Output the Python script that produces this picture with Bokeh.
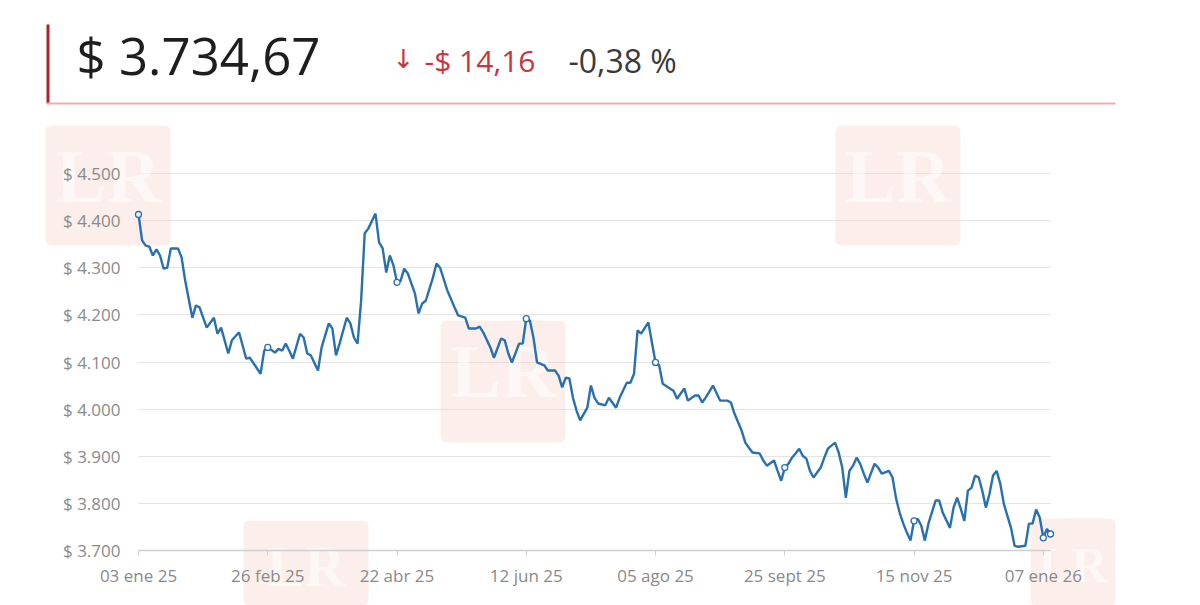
from bokeh.plotting import figure
from bokeh.models import Range1d, FixedTicker, Label, BoxAnnotation, ColumnDataSource
from bokeh.embed import file_html
from bokeh.resources import INLINE

# ---- data ----
day_index = [0, 1, 2, 3, 4, 5, 6, 7, 8, 9, 11, 12, 13, 15, 16, 17, 19, 21, 22, 23, 25, 26, 28, 30, 31,
             34, 35, 36, 38, 39, 40, 41, 42, 43, 45, 46, 47, 48, 50, 51, 53, 54, 55, 56, 58, 59, 60, 61,
             62, 63, 64, 66, 67, 68, 69, 70, 71, 72, 73, 74, 75, 77, 78, 79, 80, 82, 83, 84, 86, 88, 89,
             91, 92, 94, 95, 96, 98, 99, 101, 102, 103, 104, 106, 107, 108, 109, 110, 111, 113, 114, 116,
             117, 118, 119, 120, 121, 122, 123, 125, 126, 127, 128, 130, 131, 133, 134, 136, 137, 138,
             139, 140, 142, 143, 144, 145, 146, 148, 149, 150, 152, 153, 155, 156, 157, 158, 160, 162,
             164, 165, 166, 168, 169, 170, 171, 173, 174, 175, 177, 178, 179, 180, 181, 182, 183, 184,
             185, 186, 187, 188, 190, 191, 192, 194, 195, 196, 197, 198, 199, 200, 201, 202, 203, 205,
             206, 207, 209, 210, 211, 212, 213, 214, 215, 216, 217, 218, 219, 220, 222, 223, 224, 226,
             227, 228, 229, 230, 231, 232, 233, 234, 235, 236, 237, 238, 239, 240, 241, 243, 244, 245,
             247, 248, 249, 250, 251, 252, 253, 254]
trm = [4413, 4358, 4347, 4345, 4326, 4339, 4326, 4298, 4300, 4341, 4341, 4322, 4273, 4194, 4220, 4216,
       4173, 4194, 4160, 4173, 4118, 4146, 4163, 4107, 4109, 4075, 4124, 4131, 4120, 4128, 4124, 4139,
       4124, 4107, 4160, 4152, 4118, 4114, 4082, 4131, 4182, 4171, 4114, 4139, 4194, 4182, 4152, 4139,
       4230, 4373, 4383, 4415, 4354, 4341, 4290, 4326, 4305, 4269, 4272, 4298, 4288, 4245, 4203, 4224,
       4230, 4279, 4309, 4300, 4252, 4216, 4199, 4194, 4171, 4171, 4175, 4163, 4131, 4109, 4150, 4146,
       4118, 4099, 4139, 4139, 4192, 4188, 4152, 4099, 4093, 4082, 4082, 4071, 4046, 4067, 4065, 4024,
       3997, 3976, 4003, 4050, 4024, 4012, 4008, 4024, 4003, 4024, 4056, 4056, 4075, 4167, 4160, 4184,
       4141, 4099, 4093, 4054, 4044, 4039, 4022, 4044, 4018, 4029, 4029, 4014, 4025, 4050, 4018, 4018,
       4014, 3990, 3954, 3929, 3918, 3908, 3906, 3891, 3880, 3891, 3869, 3848, 3876, 3884, 3897, 3906,
       3916, 3901, 3895, 3869, 3855, 3876, 3897, 3916, 3929, 3908, 3876, 3812, 3869, 3880, 3897, 3884,
       3863, 3844, 3884, 3876, 3863, 3869, 3855, 3810, 3780, 3757, 3738, 3721, 3763, 3767, 3753, 3721,
       3757, 3806, 3806, 3780, 3748, 3791, 3812, 3789, 3763, 3827, 3833, 3859, 3855, 3827, 3791, 3820,
       3859, 3869, 3842, 3799, 3748, 3710, 3708, 3710, 3757, 3757, 3787, 3770, 3727, 3746, 3735]

x_tick_pos = [0, 36, 72, 108, 144, 180, 216, 252]
x_tick_labels = ["03 ene 25", "26 feb 25", "22 abr 25", "12 jun 25",
                 "05 ago 25", "25 sept 25", "15 nov 25", "07 ene 26"]
y_tick_vals = [3700, 3800, 3900, 4000, 4100, 4200, 4300, 4400, 4500]
y_tick_labels = ["$ 3.700", "$ 3.800", "$ 3.900", "$ 4.000", "$ 4.100",
                 "$ 4.200", "$ 4.300", "$ 4.400", "$ 4.500"]

last_value = "$ 3.734,67"
change_abs = "-$ 14,16"
change_pct = "-0,38 %"

# ---- layout: the frame fills the page; the chart area sits inside it ----
W, H = 1200, 605
PL, PR, PT, PB = 138, 1050, 173, 550          # chart area edges in page pixels
X0, X1 = 0, 254                               # chart area in index units
Y0, Y1 = 3700, 4500                           # chart area in value units
kx = (PR - PL) / (X1 - X0)
ky = (PB - PT) / (Y1 - Y0)
x_range = Range1d(X0 - PL / kx, X1 + (W - PR) / kx)
y_range = Range1d(Y0 - (H - PB) / ky, Y1 + PT / ky)


def sx(cx):
    return cx


def sy(cy):
    return H - cy


FONT = "Open Sans"
LINE_BLUE = "#2870b0"

p = figure(width=W, height=H, output_backend="svg", toolbar_location=None,
           x_range=x_range, y_range=y_range,
           min_border_left=0, min_border_right=0, min_border_top=0, min_border_bottom=0)
p.outline_line_color = None
p.background_fill_color = "white"
p.border_fill_color = "white"

# watermarks (faint LR boxes): left, right, top, bottom, text centre y, text size
marks = [(45, 170, 125, 245, 175, "76px"), (440, 565, 320, 442, 370, "76px"),
         (835, 960, 125, 245, 175, "76px"), (243, 368, 520, 605, 566, "56px"),
         (1030, 1115, 518, 605, 564, "50px")]
for (l, r, t, b, ty, fs) in marks:
    p.add_layout(BoxAnnotation(left=sx(l), right=sx(r), top=sy(t), bottom=sy(b),
                               left_units="screen", right_units="screen",
                               top_units="screen", bottom_units="screen",
                               fill_color="#f3c6be", fill_alpha=0.30, line_color=None,
                               border_radius=6, level="underlay"))
    p.add_layout(Label(x=sx((l + r) / 2), y=sy(ty), x_units="screen", y_units="screen",
                       text="LR", text_align="center", text_baseline="middle",
                       text_font="Liberation Serif", text_font_style="bold",
                       text_font_size=fs, text_color="white", text_alpha=0.55,
                       level="underlay"))

# header
p.add_layout(BoxAnnotation(left=sx(46), right=sx(49), top=sy(24), bottom=sy(103),
                           left_units="screen", right_units="screen",
                           top_units="screen", bottom_units="screen",
                           fill_color="#b3202a", fill_alpha=1, line_color=None))
p.add_layout(BoxAnnotation(left=sx(46), right=sx(1115), top=sy(102), bottom=sy(104),
                           left_units="screen", right_units="screen",
                           top_units="screen", bottom_units="screen",
                           fill_color="#e9b0ae", fill_alpha=1, line_color=None))
p.add_layout(Label(x=sx(76), y=sy(54), x_units="screen", y_units="screen",
                   text=last_value, text_baseline="middle", text_font=FONT,
                   text_font_size="51px", text_color="#1e1e1e"))
p.add_layout(Label(x=sx(392), y=sy(58), x_units="screen", y_units="screen",
                   text="↓", text_baseline="middle", text_font="DejaVu Sans",
                   text_font_size="26px", text_color="#c9353b"))
p.add_layout(Label(x=sx(424), y=sy(60), x_units="screen", y_units="screen",
                   text=change_abs, text_baseline="middle", text_font=FONT,
                   text_font_size="30px", text_color="#c9353b"))
p.add_layout(Label(x=sx(568), y=sy(60), x_units="screen", y_units="screen",
                   text=change_pct, text_baseline="middle", text_font=FONT,
                   text_font_size="32px", text_color="#3a3a3a"))

# line
src = ColumnDataSource(dict(x=day_index, y=trm))
p.line("x", "y", source=src, line_color=LINE_BLUE, line_width=2.4)
mk_x = [t for t in x_tick_pos if t in day_index] + [day_index[-1]]
mk_y = [trm[day_index.index(t)] for t in mk_x]
p.scatter(mk_x, mk_y, size=6, marker="circle", line_color=LINE_BLUE,
          fill_color="white", line_width=1.3)

# axes, fixed at the chart area's edges
p.xaxis.fixed_location = Y0
p.xaxis.bounds = (X0, X1)
p.xaxis.ticker = FixedTicker(ticks=x_tick_pos)
p.xaxis.major_label_overrides = {t: s for t, s in zip(x_tick_pos, x_tick_labels)}
p.xaxis.axis_line_color = "#cfcfcf"
p.xaxis.axis_line_width = 1.5
p.xaxis.major_tick_line_color = "#cfcfcf"
p.xaxis.major_tick_out = 5
p.xaxis.major_tick_in = 0
p.xaxis.minor_tick_line_color = None
p.xaxis.major_label_standoff = 8
p.xaxis.major_label_text_font = FONT
p.xaxis.major_label_text_font_size = "17px"
p.xaxis.major_label_text_color = "#8a8a8a"

p.yaxis.fixed_location = X0
p.yaxis.bounds = (Y0, Y1)
p.yaxis.ticker = FixedTicker(ticks=y_tick_vals)
p.yaxis.major_label_overrides = {v: s for v, s in zip(y_tick_vals, y_tick_labels)}
p.yaxis.axis_line_color = None
p.yaxis.major_tick_line_color = None
p.yaxis.minor_tick_line_color = None
p.yaxis.major_label_standoff = 12
p.yaxis.major_label_text_font = FONT
p.yaxis.major_label_text_font_size = "17px"
p.yaxis.major_label_text_color = "#8a8a8a"

p.xgrid.grid_line_color = None
p.ygrid.grid_line_color = "#e4e4e4"
p.ygrid.grid_line_width = 1.2
p.ygrid.cross_bounds = (X0, X1)

open("out.html", "w").write(file_html(p, INLINE))
